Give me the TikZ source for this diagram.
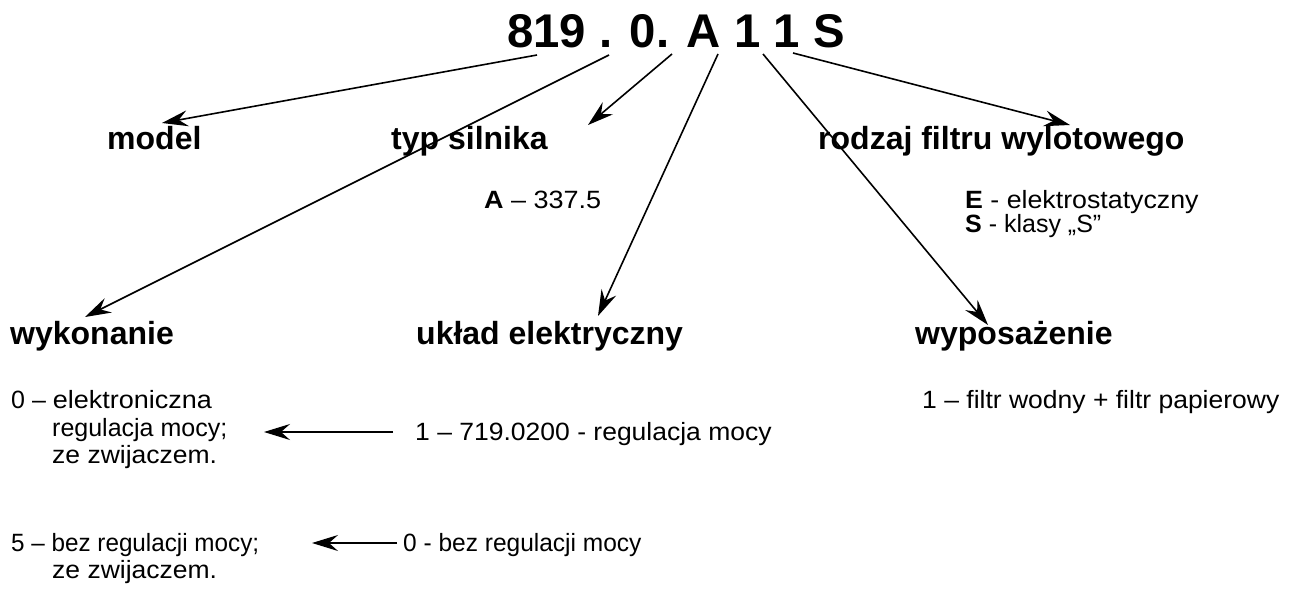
\documentclass[tikz,border=0pt]{standalone}
\usepackage{fontspec}
\setmainfont{Liberation Sans}
\usetikzlibrary{arrows.meta}
\newcommand{\wide}[2]{\scalebox{#1}[1]{#2}}
\tikzset{
  lbl/.style={inner sep=0pt, anchor=base west, font=\fontsize{32}{36}\selectfont\bfseries},
  txt/.style={inner sep=0pt, anchor=base west, font=\fontsize{25}{29}\selectfont},
  ttl/.style={inner sep=0pt, anchor=base west, font=\fontsize{47.3}{56}\selectfont\bfseries},
  arr/.style={line width=1.6pt, -{Stealth[length=26pt,width=16pt,inset=9pt]}},
}
\begin{document}
\begin{tikzpicture}[x=1pt,y=-1pt]
\useasboundingbox (0,0) rectangle (1294,599);
% title
\node[ttl] (title) at (507,48) {819 . 0. A 1 1 S};
% labels
\node[lbl] (model) at (107,150) {model};
\node[lbl] (typ) at (391,150) {typ silnika};
\node[lbl] (rodzaj) at (818,150) {rodzaj filtru wylotowego};
\node[lbl] (wyk) at (10,344) {wykonanie};
\node[lbl] (uklad) at (416,344) {układ elektryczny};
\node[lbl] (wypos) at (915,344) {wyposażenie};
% values
\node[txt] (typA) at (484,208) {\wide{1.08}{\textbf{A} – 337.5}};
\node[txt] (filE) at (965,208) {\wide{1.07}{\textbf{E} - elektrostatyczny}};
\node[txt] (filS) at (965,233) {\textbf{S} - klasy „S”};
\node[txt] (wyk0a) at (11,408) {0 – \wide{1.08}{elektroniczna}};
\node[txt] (wyk0b) at (52,436) {regulacja mocy;};
\node[txt] (wyk0c) at (52,463) {\wide{1.06}{ze zwijaczem.}};
\node[txt] (wyk5a) at (11,551) {\wide{0.97}{5 – bez regulacji mocy;}};
\node[txt] (wyk5b) at (52,578) {\wide{1.06}{ze zwijaczem.}};
\node[txt] (ukl1) at (415,440) {\wide{1.06}{1 – 719.0200 - regulacja mocy}};
\node[txt] (ukl0) at (403,551) {\wide{0.98}{0 - bez regulacji mocy}};
\node[txt] (wyp1) at (922,408) {\wide{1.06}{1 – filtr wodny + filtr papierowy}};
% connector ends
\coordinate (s1) at (537,55);  \coordinate (e1) at (162,123);
\coordinate (s2) at (609,55);  \coordinate (e2) at (85,317);
\coordinate (s3) at (672,54);  \coordinate (e3) at (588,125);
\coordinate (s4) at (718,54);  \coordinate (e4) at (598,316);
\coordinate (s5) at (763,54);  \coordinate (e5) at (988,325);
\coordinate (s6) at (793,53);  \coordinate (e6) at (1070,125);
\coordinate (s7) at (393,432); \coordinate (e7) at (264,432);
\coordinate (s8) at (397,543); \coordinate (e8) at (312,543);
\draw[arr] (s1) -- (e1);
\draw[arr] (s2) -- (e2);
\draw[arr] (s3) -- (e3);
\draw[arr] (s4) -- (e4);
\draw[arr] (s5) -- (e5);
\draw[arr] (s6) -- (e6);
\draw[arr] (s7) -- (e7);
\draw[arr] (s8) -- (e8);
\end{tikzpicture}
\end{document}
